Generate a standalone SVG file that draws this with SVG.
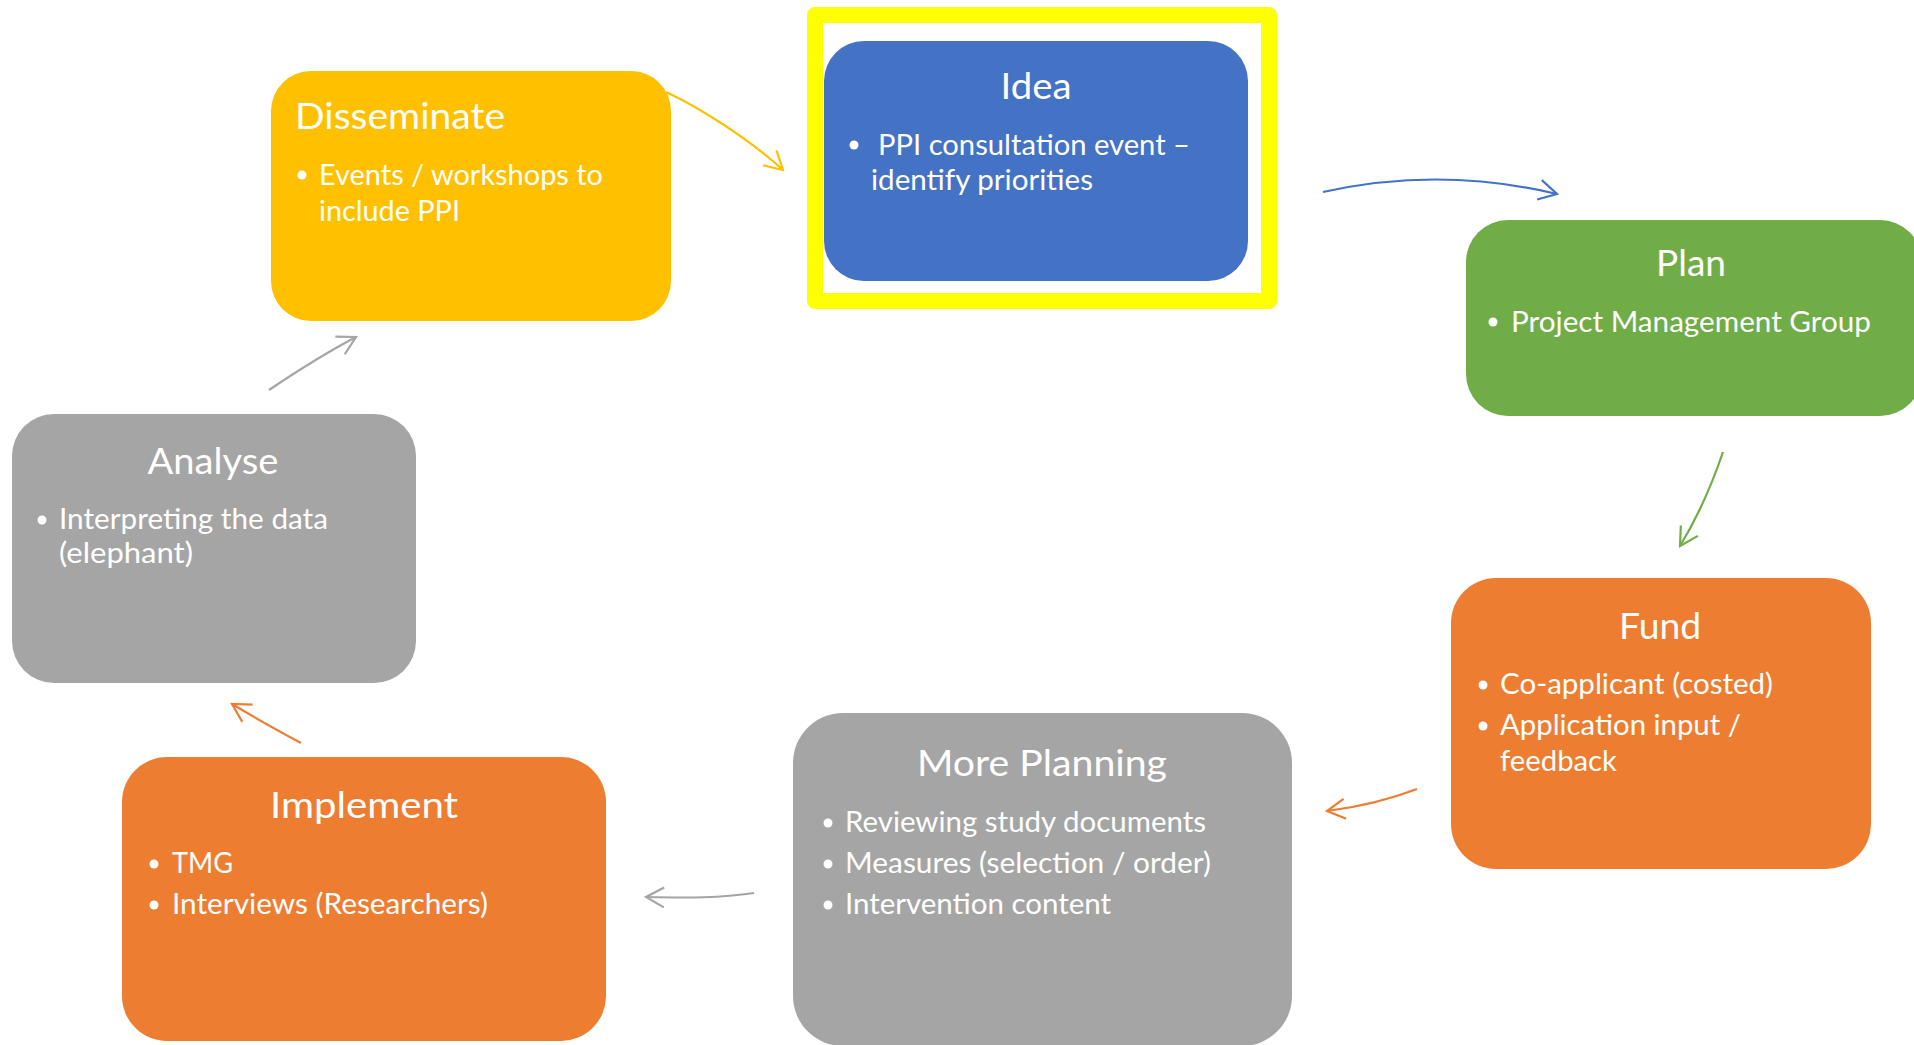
<svg xmlns="http://www.w3.org/2000/svg" width="1914" height="1045" viewBox="0 0 1914 1045">
<style>
.t{font-family:Lato,"Open Sans",sans-serif;font-size:36px;fill:#fff;text-anchor:middle}
.b{font-family:Lato,"Open Sans",sans-serif;font-size:28px;fill:#fff}
.dot{fill:#fff}
.c{fill:none;stroke-width:2.2}
</style>
<defs>
<marker id="mY" viewBox="-22 -12 24 24" markerWidth="24" markerHeight="24" refX="0" refY="0" orient="auto" markerUnits="userSpaceOnUse"><path d="M-18,-10 L0,0 L-18,10" fill="none" stroke="#FFC000" stroke-width="2.2"/></marker>
<marker id="mB" viewBox="-22 -12 24 24" markerWidth="24" markerHeight="24" refX="0" refY="0" orient="auto" markerUnits="userSpaceOnUse"><path d="M-18,-10 L0,0 L-18,10" fill="none" stroke="#4472C4" stroke-width="2.2"/></marker>
<marker id="mG" viewBox="-22 -12 24 24" markerWidth="24" markerHeight="24" refX="0" refY="0" orient="auto" markerUnits="userSpaceOnUse"><path d="M-18,-10 L0,0 L-18,10" fill="none" stroke="#70AD47" stroke-width="2.2"/></marker>
<marker id="mO" viewBox="-22 -12 24 24" markerWidth="24" markerHeight="24" refX="0" refY="0" orient="auto" markerUnits="userSpaceOnUse"><path d="M-18,-10 L0,0 L-18,10" fill="none" stroke="#ED7D31" stroke-width="2.2"/></marker>
<marker id="mA" viewBox="-22 -12 24 24" markerWidth="24" markerHeight="24" refX="0" refY="0" orient="auto" markerUnits="userSpaceOnUse"><path d="M-18,-10 L0,0 L-18,10" fill="none" stroke="#A5A5A5" stroke-width="2.2"/></marker>
</defs>
<rect width="1914" height="1045" fill="#fff"/>

<g id="highlight">
<rect x="815" y="15" width="454" height="286" fill="none" stroke="#FFFF00" stroke-width="16" stroke-linejoin="round"/>
</g>

<g id="idea">
<rect x="824" y="41" width="424" height="240" rx="40" fill="#4472C4"/>
<text class="t" x="1036" y="99" textLength="71" lengthAdjust="spacingAndGlyphs">Idea</text>
<circle class="dot" cx="854" cy="145" r="4.5"/>
<text class="b" x="878" y="155" textLength="312" lengthAdjust="spacingAndGlyphs">PPI consultation event –</text>
<text class="b" x="871" y="190" textLength="222" lengthAdjust="spacingAndGlyphs">identify priorities</text>
</g>

<g id="disseminate">
<rect x="271" y="71" width="400" height="250" rx="40" fill="#FFC000"/>
<text class="t" x="295" y="129" style="text-anchor:start" textLength="210" lengthAdjust="spacingAndGlyphs">Disseminate</text>
<circle class="dot" cx="302" cy="175" r="4.5"/>
<text class="b" x="319" y="185" textLength="284" lengthAdjust="spacingAndGlyphs">Events / workshops to</text>
<text class="b" x="319" y="221" textLength="141" lengthAdjust="spacingAndGlyphs">include PPI</text>
</g>

<g id="plan">
<rect x="1466" y="220" width="456" height="196" rx="42" fill="#70AD47"/>
<text class="t" x="1691" y="276" textLength="70" lengthAdjust="spacingAndGlyphs">Plan</text>
<circle class="dot" cx="1493" cy="322" r="4.5"/>
<text class="b" x="1511" y="332" textLength="360" lengthAdjust="spacingAndGlyphs">Project Management Group</text>
</g>

<g id="fund">
<rect x="1451" y="578" width="420" height="291" rx="45" fill="#ED7D31"/>
<text class="t" x="1660" y="639" textLength="82" lengthAdjust="spacingAndGlyphs">Fund</text>
<circle class="dot" cx="1483" cy="685" r="4.5"/>
<text class="b" x="1500" y="694" textLength="273" lengthAdjust="spacingAndGlyphs">Co-applicant (costed)</text>
<circle class="dot" cx="1483" cy="726" r="4.5"/>
<text class="b" x="1500" y="735" textLength="241" lengthAdjust="spacingAndGlyphs">Application input /</text>
<text class="b" x="1500" y="771" textLength="117" lengthAdjust="spacingAndGlyphs">feedback</text>
</g>

<g id="more-planning">
<rect x="793" y="713" width="499" height="333" rx="50" fill="#A5A5A5"/>
<text class="t" x="1042" y="776" textLength="250" lengthAdjust="spacingAndGlyphs">More Planning</text>
<circle class="dot" cx="828" cy="823" r="4.5"/>
<text class="b" x="845" y="832" textLength="361" lengthAdjust="spacingAndGlyphs">Reviewing study documents</text>
<circle class="dot" cx="828" cy="864" r="4.5"/>
<text class="b" x="845" y="873" textLength="366" lengthAdjust="spacingAndGlyphs">Measures (selection / order)</text>
<circle class="dot" cx="828" cy="905" r="4.5"/>
<text class="b" x="845" y="914" textLength="266" lengthAdjust="spacingAndGlyphs">Intervention content</text>
</g>

<g id="implement">
<rect x="122" y="757" width="484" height="284" rx="45" fill="#ED7D31"/>
<text class="t" x="364" y="818" textLength="188" lengthAdjust="spacingAndGlyphs">Implement</text>
<circle class="dot" cx="154" cy="864" r="4.5"/>
<text class="b" x="172" y="873" textLength="61" lengthAdjust="spacingAndGlyphs">TMG</text>
<circle class="dot" cx="154" cy="905" r="4.5"/>
<text class="b" x="172" y="914" textLength="316" lengthAdjust="spacingAndGlyphs">Interviews (Researchers)</text>
</g>

<g id="analyse">
<rect x="12" y="414" width="404" height="269" rx="42" fill="#A5A5A5"/>
<text class="t" x="213" y="474" textLength="131" lengthAdjust="spacingAndGlyphs">Analyse</text>
<circle class="dot" cx="42" cy="520" r="4.5"/>
<text class="b" x="59" y="529" textLength="269" lengthAdjust="spacingAndGlyphs">Interpreting the data</text>
<text class="b" x="59" y="563" textLength="134" lengthAdjust="spacingAndGlyphs">(elephant)</text>
</g>

<g id="connectors">
<path class="c" stroke="#FFC000" d="M666,92 C700,108 748,138 783,170" marker-end="url(#mY)"/>
<path class="c" stroke="#4472C4" d="M1323,192 Q1440,166 1557,194" marker-end="url(#mB)"/>
<path class="c" stroke="#70AD47" d="M1723,452 Q1705,505 1680,546" marker-end="url(#mG)"/>
<path class="c" stroke="#ED7D31" d="M1417,789 Q1375,805 1327,811" marker-end="url(#mO)"/>
<path class="c" stroke="#A5A5A5" d="M754,893 C720,898 690,898 646,897" marker-end="url(#mA)"/>
<path class="c" stroke="#ED7D31" d="M301,743 Q262,722 232,704" marker-end="url(#mO)"/>
<path class="c" stroke="#A5A5A5" d="M269,390 Q318,357 356,337" marker-end="url(#mA)"/>
</g>
</svg>
